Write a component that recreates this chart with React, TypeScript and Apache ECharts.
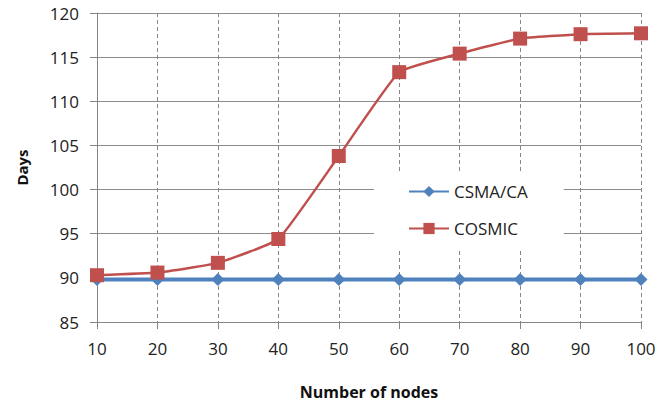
import React, { useEffect, useRef } from "react";
import * as echarts from "echarts";

const categories = ["10", "20", "30", "40", "50", "60", "70", "80", "90", "100"];
const csmaValues = [89.8, 89.8, 89.8, 89.8, 89.8, 89.8, 89.8, 89.8, 89.8, 89.8];
const cosmicValues = [90.3, 90.6, 91.7, 94.4, 103.8, 113.3, 115.4, 117.1, 117.6, 117.7];
const seriesNames = ["CSMA/CA", "COSMIC"];

const FONT = "'Open Sans', sans-serif";

export default function App() {
  const ref = useRef<HTMLDivElement>(null);
  useEffect(() => {
    if (!ref.current) return;
    const chart = echarts.init(ref.current, undefined, { renderer: "svg" });
    chart.setOption({
      animation: false,
      backgroundColor: "#ffffff",
      textStyle: { fontFamily: FONT },
      grid: { left: 97, right: 31, top: 13, bottom: 87, containLabel: false },
      legend: {
        orient: "vertical",
        left: 374,
        top: 172,
        padding: [11, 36, 14, 34],
        itemWidth: 40,
        itemHeight: 14,
        itemGap: 20,
        backgroundColor: "#ffffff",
        textStyle: { fontFamily: FONT, fontSize: 17, color: "#222" },
        data: seriesNames,
        z: 10,
      },
      xAxis: {
        type: "category",
        data: categories,
        boundaryGap: false,
        name: "Number of nodes",
        nameLocation: "middle",
        nameGap: 62,
        nameTextStyle: { fontFamily: FONT, fontSize: 16, fontWeight: "bold", color: "#111" },
        axisLine: { lineStyle: { color: "#868686", width: 1 } },
        axisTick: { show: true, length: 7, alignWithLabel: true, lineStyle: { color: "#868686" } },
        axisLabel: { fontFamily: FONT, fontSize: 17, color: "#222", margin: 18 },
        splitLine: { show: true, lineStyle: { color: "#888", type: [4, 3], width: 1 } },
      },
      yAxis: {
        type: "value",
        min: 85,
        max: 120,
        interval: 5,
        name: "Days",
        nameLocation: "middle",
        nameGap: 68,
        nameRotate: 90,
        nameTextStyle: { fontFamily: FONT, fontSize: 15, fontWeight: "bold", color: "#111" },
        axisLine: { show: true, lineStyle: { color: "#868686", width: 1 } },
        axisTick: { show: true, length: 7, lineStyle: { color: "#868686" } },
        axisLabel: { fontFamily: FONT, fontSize: 17, color: "#222", margin: 18 },
        splitLine: { show: true, lineStyle: { color: "#8c8c8c", width: 1 } },
      },
      series: [
        {
          name: seriesNames[0],
          type: "line",
          data: csmaValues,
          symbol: "diamond",
          symbolSize: 13,
          lineStyle: { color: "#4F81BD", width: 4 },
          itemStyle: { color: "#4F81BD" },
          z: 3,
        },
        {
          name: seriesNames[1],
          type: "line",
          data: cosmicValues,
          smooth: 0.12,
          symbol: "rect",
          symbolSize: 14,
          lineStyle: { color: "#C0504D", width: 2.5 },
          itemStyle: { color: "#C0504D" },
          z: 4,
        },
      ],
    });
    return () => chart.dispose();
  }, []);
  return <div ref={ref} style={{ width: 672, height: 409, position: "absolute", left: 0, top: 0 }} />;
}
